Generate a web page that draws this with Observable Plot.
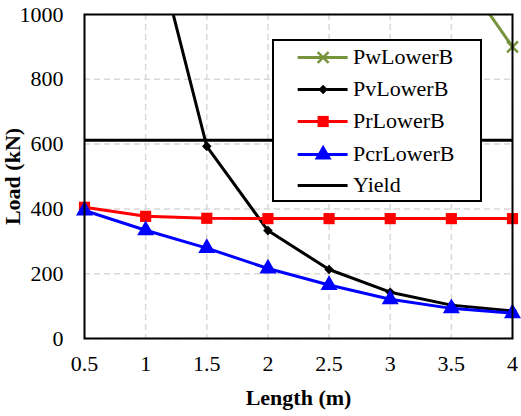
<!DOCTYPE html>
<html>
<head>
<meta charset="utf-8">
<script src="https://cdn.jsdelivr.net/npm/d3@7"></script>
<script src="https://cdn.jsdelivr.net/npm/@observablehq/plot@0.6"></script>
<style>
  body { margin: 0; background: #fff; }
  #wrap { position: relative; width: 521px; height: 416px; font-family: "Liberation Serif", "Times New Roman", serif; }
  g[aria-label="x-axis label"] text, g[aria-label="y-axis label"] text { font-weight: bold; }
  #legend { position: absolute; left: 272px; top: 39px; width: 206px; height: 159px; border: 2px solid #000; background: #fff; font-family: "Liberation Serif", "Times New Roman", serif; }
  #legend .row { position: absolute; left: 0; height: 32px; display: flex; align-items: center; font-size: 22px; color: #000; font-family: "Liberation Serif", "Times New Roman", serif; }
  #legend svg { display: block; }
</style>
</head>
<body>
<div id="wrap"></div>
<script>
const lengths = [0.5, 1, 1.5, 2, 2.5, 3, 3.5, 4];
const pwLowerB = [57600, 14400, 6400, 3600, 2300, 1600, 1170, 900];
const pvLowerB = [5340, 1335, 593, 333, 213, 143, 103, 85];
const prLowerB = [405, 377, 371, 370, 370, 370, 370, 370];
const pcrLowerB = [395, 334, 279, 216, 165, 121, 93, 78];
const yieldLoad = 612;
const xTicks = [0.5, 1, 1.5, 2, 2.5, 3, 3.5, 4];
const yTicks = [0, 200, 400, 600, 800, 1000];

const FONT = '"Liberation Serif", "Times New Roman", serif';

const seriesDefs = [
  {name: "PwLowerB", values: pwLowerB, color: "#77933C", symbol: "times", r: 5, stroke: true},
  {name: "PvLowerB", values: pvLowerB, color: "#000000", symbol: "diamond2", r: 4.3, stroke: false},
  {name: "PrLowerB", values: prLowerB, color: "#FF0000", symbol: "square", r: 6.3, stroke: false},
  {name: "PcrLowerB", values: pcrLowerB, color: "#0000FF", symbol: "triangle", r: 6.3, stroke: false}
];

const rows = [];
for (const s of seriesDefs) lengths.forEach((L, i) => rows.push({series: s.name, L, v: s.values[i]}));

const marks = [
  Plot.gridX(xTicks, {stroke: "#d9d9d9", strokeOpacity: 1, strokeWidth: 1.5, strokeDasharray: "6,4"}),
  Plot.gridY(yTicks, {stroke: "#d9d9d9", strokeOpacity: 1, strokeWidth: 1.5, strokeDasharray: "6,4"}),
  Plot.axisX(xTicks, {tickSize: 0, tickPadding: 17, fontSize: 22, label: "Length (m)", labelAnchor: "center", labelArrow: "none", labelOffset: 66, tickFormat: d => String(d)}),
  Plot.axisY(yTicks, {tickSize: 0, tickPadding: 21, fontSize: 22, label: "Load (kN)", labelAnchor: "center", labelArrow: "none", labelOffset: 80, tickFormat: d => String(d)}),
  Plot.ruleY([yieldLoad], {stroke: "#000", strokeWidth: 3})
];
for (const s of seriesDefs) {
  const data = rows.filter(d => d.series === s.name);
  marks.push(Plot.line(data, {x: "L", y: "v", stroke: s.color, strokeWidth: 3, clip: true}));
}
for (const s of seriesDefs) {
  const data = rows.filter(d => d.series === s.name && d.v <= 1000);
  if (s.stroke) marks.push(Plot.dot(data, {x: "L", y: "v", symbol: s.symbol, r: s.r, stroke: s.color, strokeWidth: 2.5}));
  else marks.push(Plot.dot(data, {x: "L", y: "v", symbol: s.symbol, r: s.r, fill: s.color, stroke: "none"}));
}
marks.push(Plot.frame({stroke: "#000", strokeWidth: 2}));

const chart = Plot.plot({
  width: 521, height: 416,
  marginLeft: 84, marginRight: 9, marginTop: 14, marginBottom: 78,
  style: {fontSize: "22px", fontFamily: FONT, background: "#fff", color: "#000"},
  x: {domain: [0.5, 4]},
  y: {domain: [0, 1000]},
  marks
});
const wrap = document.getElementById("wrap");
wrap.appendChild(chart);

// legend
const legend = document.createElement("div");
legend.id = "legend";
const legendItems = [...seriesDefs, {name: "Yield", color: "#000", symbol: null}];
const rowTops = [0, 32, 64, 97, 128];
legendItems.forEach((s, i) => {
  const row = document.createElement("div");
  row.className = "row";
  row.style.top = rowTops[i] + "px";
  const sample = Plot.plot({
    width: 64, height: 32, margin: 0,
    x: {domain: [0, 1], axis: null}, y: {domain: [0, 1], axis: null},
    style: {background: "transparent", fontFamily: FONT},
    marks: [
      Plot.ruleY([0.5], {x1: 0.37, x2: 1.15, stroke: s.color, strokeWidth: 3}),
      s.symbol ? (s.stroke
        ? Plot.dot([0.76], {x: d => d, y: 0.5, symbol: s.symbol, r: s.r, stroke: s.color, strokeWidth: 2.5})
        : Plot.dot([0.76], {x: d => d, y: 0.5, symbol: s.symbol, r: s.r, fill: s.color})) : null
    ]
  });
  sample.style.overflow = "visible";
  row.appendChild(sample);
  const label = document.createElement("span");
  label.textContent = s.name;
  label.style.marginLeft = "15px";
  label.style.fontFamily = FONT;
  row.appendChild(label);
  legend.appendChild(row);
});
wrap.appendChild(legend);
</script>
</body>
</html>
